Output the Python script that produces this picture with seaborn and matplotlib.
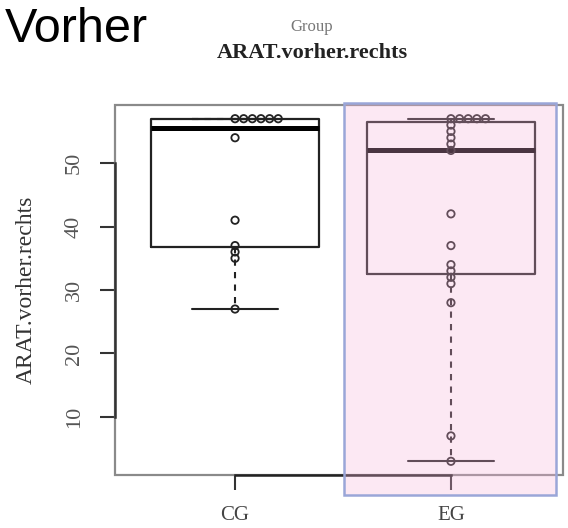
import numpy as np
import pandas as pd
import matplotlib
matplotlib.use("Agg")
import matplotlib.pyplot as plt
from matplotlib.patches import Rectangle
import seaborn as sns

# ARAT scores before treatment, right hand
groups = ["CG", "EG"]
cg_values = [27, 35, 36, 37, 41, 54, 57, 57, 57, 57, 57, 57]
eg_values = [3, 7, 28, 31, 32, 33, 34, 37, 42, 52, 53, 54, 55, 56, 57, 57, 57, 57, 57]
y_ticks = [10, 20, 30, 40, 50]
value_name = "ARAT.vorher.rechts"

df = pd.DataFrame({
    "Group": ["CG"] * len(cg_values) + ["EG"] * len(eg_values),
    value_name: cg_values + eg_values,
})

sns.set_theme(style="white")
plt.rcParams["font.family"] = ["Liberation Serif", "DejaVu Serif"]

fig = plt.figure(figsize=(5.68, 5.28), dpi=100)
ax = fig.add_axes([115 / 568, 53 / 528, 448 / 568, 370 / 528])

sns.boxplot(
    data=df, x="Group", y=value_name, order=groups, ax=ax,
    width=0.78, whis=(0, 100), fill=False, color="#222222",
    linewidth=1.6, showfliers=False,
    medianprops=dict(linewidth=3.6, color="black"),
    whiskerprops=dict(linestyle=(0, (3, 3)), linewidth=1.5),
    capprops=dict(linewidth=1.5),
)

# stacked strip chart: tied values are stacked to the right of the group centre
df["pos"] = df["Group"].map({g: i for i, g in enumerate(groups)})
df["tie"] = df.groupby(["Group", value_name]).cumcount()
df["xs"] = df["pos"] + df["tie"] * 0.04
ax.scatter(df["xs"], df[value_name], s=28, marker="o",
           facecolors="none", edgecolors="#222222", linewidths=1.3, zorder=4)

# whisker caps as wide as half the box
for line in ax.lines:
    xd = np.asarray(line.get_xdata(), dtype=float)
    yd = np.asarray(line.get_ydata(), dtype=float)
    if len(xd) == 2 and yd[0] == yd[1] and line.get_linewidth() < 3:
        c = xd.mean()
        if abs(xd[1] - xd[0]) < 0.5:
            line.set_xdata([c - 0.2, c + 0.2])

ax.set_xlim(-0.556, 1.519)
ax.set_ylim(0.84, 59.16)
ax.set_yticks(y_ticks)
ax.set_xlabel("")
ax.set_ylabel(value_name, fontsize=17, color="#333333", labelpad=20)

for s in ax.spines.values():
    s.set_visible(False)
ax.add_patch(Rectangle((0, 0), 1, 1, transform=ax.transAxes, fill=False,
                       ec="#8a8a8a", lw=1.6, zorder=1, clip_on=False))
ax.spines["left"].set_visible(True)
ax.spines["left"].set_bounds(10, 50)
ax.spines["left"].set_color("#333333")
ax.spines["left"].set_linewidth(1.8)
ax.spines["bottom"].set_visible(True)
ax.spines["bottom"].set_bounds(0, 1)
ax.spines["bottom"].set_color("#222222")
ax.spines["bottom"].set_linewidth(1.8)

ax.tick_params(axis="both", direction="out", length=10.5, width=1.5,
               colors="#333333", labelsize=16, pad=12, left=True, bottom=True)
ax.tick_params(axis="x", pad=12, labelsize=15, labelcolor="#444444")
ax.tick_params(axis="y", labelrotation=90, labelcolor="#555555")
for lab in ax.get_yticklabels():
    lab.set_va("center")

fig.text(312 / 568, 1 - 27 / 528, "Group", ha="center", va="center",
         fontsize=12, color="#777777")
fig.text(312 / 568, 1 - 53 / 528, value_name, ha="center", va="center",
         fontsize=16, fontweight="bold", color="#222222")
fig.text(5 / 568, 1 - 29 / 528, "Vorher", ha="left", va="center",
         fontsize=35, family=["Liberation Sans", "DejaVu Sans"], color="black")

# highlighted EG panel
x0, x1, y0, y1 = 344 / 568, 556 / 568, 1 - 495 / 528, 1 - 103 / 528
fig.add_artist(Rectangle((x0, y0), x1 - x0, y1 - y0, transform=fig.transFigure,
                         fc=(0.972, 0.70, 0.855), alpha=0.3, ec="none", zorder=10))
fig.add_artist(Rectangle((x0, y0), x1 - x0, y1 - y0, transform=fig.transFigure,
                         fill=False, ec="#9aa6d8", lw=1.8, zorder=11))

fig.savefig("out.png", dpi=100)
